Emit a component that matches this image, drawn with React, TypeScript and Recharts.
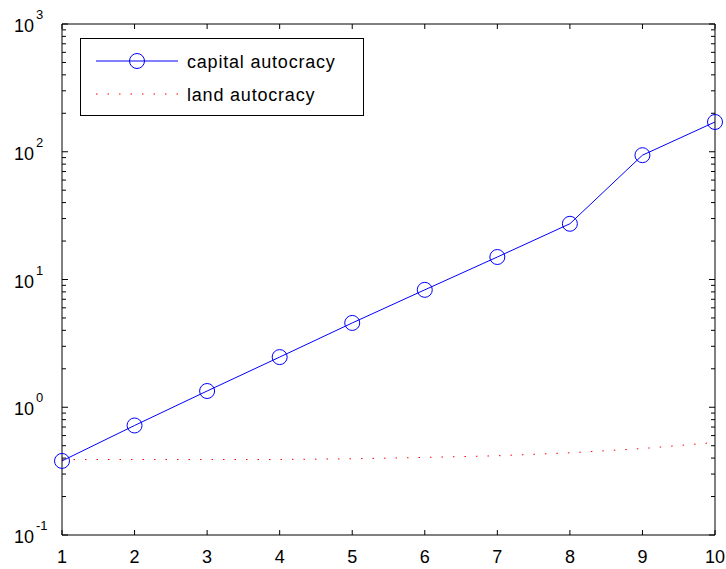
import { LineChart, Line, XAxis, YAxis, Legend } from "recharts";

const periods = [1, 2, 3, 4, 5, 6, 7, 8, 9, 10];
const capitalAutocracy = [0.38, 0.72, 1.34, 2.47, 4.57, 8.3, 15.0, 27.3, 94, 171];
const landAutocracy = [0.39, 0.39, 0.39, 0.39, 0.395, 0.405, 0.417, 0.44, 0.475, 0.53];

const majorTicks = [0.1, 1, 10, 100, 1000];
const minorMults = [2, 3, 4, 5, 6, 7, 8, 9];
const yTicks = [
  ...majorTicks,
  ...majorTicks.slice(0, 4).flatMap((d) => minorMults.map((m) => +(d * m).toPrecision(3))),
].sort((a, b) => a - b);

const data = periods.map((p, i) => ({
  period: p,
  capital: capitalAutocracy[i],
  land: landAutocracy[i],
}));

const FONT = '"Liberation Sans", Arial, sans-serif';
const isMajor = (v: number) => majorTicks.includes(v);

function LeftTick({ x, y, payload }: any) {
  const v = payload.value as number;
  const major = isMajor(v);
  return (
    <g>
      <line x1={x} x2={x + (major ? 6 : 4)} y1={y} y2={y} stroke="#000" />
      {major && (
        <text x={x - 48} y={y + 8} fontSize={18} fontFamily={FONT} fill="#000">
          10
          <tspan dx={2} dy={-13} fontSize={13}>
            {Math.round(Math.log10(v))}
          </tspan>
        </text>
      )}
    </g>
  );
}

function RightTick({ x, y, payload }: any) {
  const major = isMajor(payload.value);
  return <line x1={x} x2={x - (major ? 6 : 4)} y1={y} y2={y} stroke="#000" />;
}

function BottomTick({ x, y, payload }: any) {
  return (
    <g>
      <line x1={x} x2={x} y1={y} y2={y - 5} stroke="#000" />
      <text x={x} y={y + 28} textAnchor="middle" fontSize={18} fontFamily={FONT} fill="#000">
        {payload.value}
      </text>
    </g>
  );
}

function TopTick({ x, y }: any) {
  return <line x1={x} x2={x} y1={y} y2={y + 5} stroke="#000" />;
}

function MatlabLegend() {
  return (
    <div
      style={{
        width: 284,
        height: 78,
        border: "1px solid #000",
        background: "#fff",
        boxSizing: "border-box",
      }}
    >
      <svg width={282} height={76} style={{ display: "block" }}>
        <line x1={15} x2={97} y1={22} y2={22} stroke="#0000ff" />
        <circle cx={56} cy={22} r={7.5} fill="none" stroke="#0000ff" />
        <text x={106} y={29} fontSize={18} fontFamily={FONT} letterSpacing={0.8} fill="#000">
          capital autocracy
        </text>
        <line x1={15} x2={97} y1={55} y2={55} stroke="#ff0000" strokeDasharray="1.5 10" />
        <text x={106} y={62} fontSize={18} fontFamily={FONT} letterSpacing={0.8} fill="#000">
          land autocracy
        </text>
      </svg>
    </div>
  );
}

export default function App() {
  return (
    <div style={{ position: "absolute", left: 0, top: 0, background: "#fff" }}>
      <LineChart
        width={726}
        height={569}
        data={data}
        margin={{ top: 23, right: 10, left: 0, bottom: 0 }}
      >
        <XAxis
          dataKey="period"
          type="number"
          domain={[1, 10]}
          ticks={periods}
          interval={0}
          height={34}
          tickSize={0}
          tickMargin={0}
          tickLine={false}
          axisLine={{ stroke: "#000" }}
          tick={<BottomTick />}
        />
        <XAxis
          xAxisId="top"
          orientation="top"
          dataKey="period"
          type="number"
          domain={[1, 10]}
          ticks={periods}
          interval={0}
          height={1}
          tickSize={0}
          tickMargin={0}
          tickLine={false}
          axisLine={{ stroke: "#000" }}
          tick={<TopTick />}
        />
        <YAxis
          scale="log"
          type="number"
          domain={[0.1, 1000]}
          ticks={yTicks}
          interval={0}
          allowDataOverflow
          width={62}
          tickSize={0}
          tickMargin={0}
          tickLine={false}
          axisLine={{ stroke: "#000" }}
          tick={<LeftTick />}
        />
        <YAxis
          yAxisId="right"
          orientation="right"
          scale="log"
          type="number"
          domain={[0.1, 1000]}
          ticks={yTicks}
          interval={0}
          allowDataOverflow
          width={1}
          tickSize={0}
          tickMargin={0}
          tickLine={false}
          axisLine={{ stroke: "#000" }}
          tick={<RightTick />}
        />
        <Legend
          layout="horizontal"
          verticalAlign="middle"
          align="center"
          content={<MatlabLegend />}
          wrapperStyle={{ position: "absolute", left: 80, top: 38, width: 284, height: 78 }}
        />
        <Line
          dataKey="land"
          name="land autocracy"
          type="linear"
          stroke="#ff0000"
          strokeWidth={1}
          strokeDasharray="1.5 10"
          dot={false}
          isAnimationActive={false}
        />
        <Line
          dataKey="capital"
          name="capital autocracy"
          type="linear"
          stroke="#0000ff"
          strokeWidth={1}
          dot={{ r: 7.5, fill: "none", stroke: "#0000ff", strokeWidth: 1 }}
          isAnimationActive={false}
        />
      </LineChart>
    </div>
  );
}
